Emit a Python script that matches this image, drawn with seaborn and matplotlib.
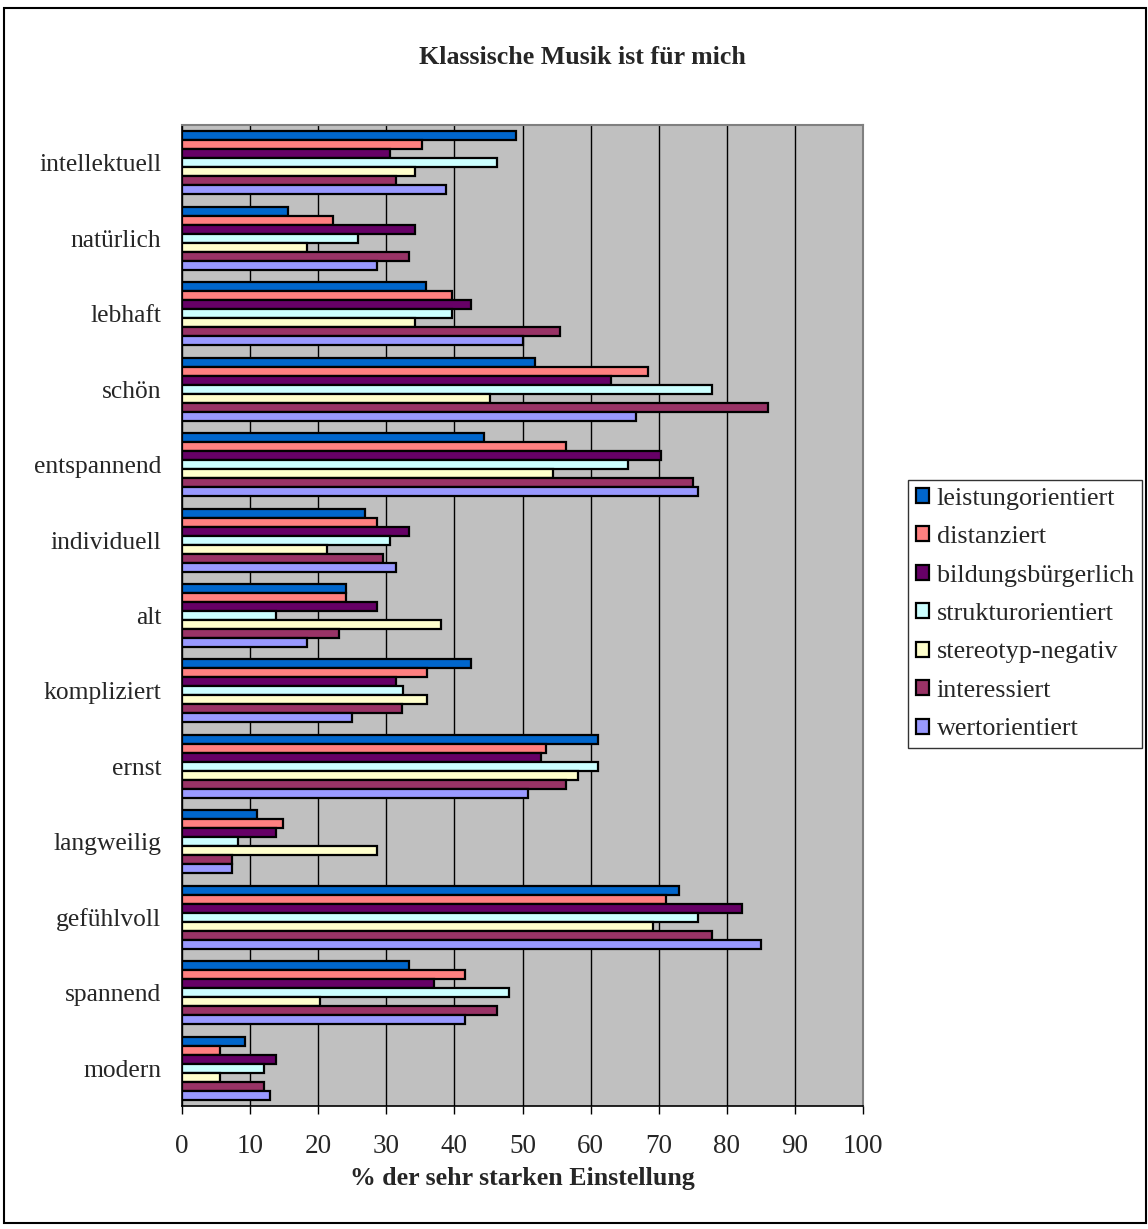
import numpy as np
import pandas as pd
import matplotlib
matplotlib.use("Agg")
import matplotlib.pyplot as plt
import seaborn as sns
from matplotlib.patches import Rectangle

categories = ["intellektuell", "natürlich", "lebhaft", "schön", "entspannend",
              "individuell", "alt", "kompliziert", "ernst", "langweilig",
              "gefühlvoll", "spannend", "modern"]

series_names = ["leistungorientiert", "distanziert", "bildungsbürgerlich",
                "strukturorientiert", "stereotyp-negativ", "interessiert",
                "wertorientiert"]

leistungorientiert = [49.1, 15.6, 35.9, 51.9, 44.4, 26.8, 24.1, 42.5, 61.1, 11.0, 73.0, 33.3, 9.3]
distanziert = [35.2, 22.1, 39.7, 68.5, 56.4, 28.6, 24.1, 36.0, 53.5, 14.8, 71.1, 41.6, 5.6]
bildungsbuergerlich = [30.6, 34.2, 42.5, 63.0, 70.3, 33.3, 28.7, 31.4, 52.7, 13.8, 82.3, 37.0, 13.8]
strukturorientiert = [46.2, 25.9, 39.7, 77.8, 65.5, 30.6, 13.8, 32.4, 61.1, 8.2, 75.7, 48.0, 12.0]
stereotyp_negativ = [34.2, 18.4, 34.2, 45.2, 54.5, 21.3, 38.0, 36.0, 58.2, 28.7, 69.2, 20.3, 5.6]
interessiert = [31.4, 33.3, 55.5, 86.0, 75.0, 29.5, 23.1, 32.3, 56.4, 7.3, 77.8, 46.3, 12.0]
wertorientiert = [38.8, 28.7, 50.0, 66.6, 75.8, 31.4, 18.4, 24.9, 50.8, 7.3, 85.0, 41.6, 12.9]

series_values = [leistungorientiert, distanziert, bildungsbuergerlich,
                 strukturorientiert, stereotyp_negativ, interessiert, wertorientiert]

colors = ["#0066CC", "#FF8080", "#660066", "#CCFFFF", "#FFFFCC", "#993366", "#9999FF"]

x_ticks = [0, 10, 20, 30, 40, 50, 60, 70, 80, 90, 100]

rows = []
for name, vals in zip(series_names, series_values):
    for cat, v in zip(categories, vals):
        rows.append({"Kategorie": cat, "Gruppe": name, "Wert": v})
df = pd.DataFrame(rows)

sns.set_style("white")
plt.rcParams["font.family"] = ["Liberation Serif", "DejaVu Serif"]

fig = plt.figure(figsize=(11.48, 12.29), dpi=100)
ax = fig.add_axes([182 / 1148, 1 - 1106 / 1229, (863 - 182) / 1148, (1106 - 125) / 1229])
ax.set_facecolor("#C0C0C0")

sns.barplot(data=df, x="Wert", y="Kategorie", hue="Gruppe",
            order=categories, hue_order=series_names, palette=colors,
            orient="h", width=0.835, edgecolor="black", linewidth=1.6,
            saturation=1, ax=ax, zorder=3)

ax.set_xlim(0, 100)
ax.set_ylim(12.5, -0.5)
ax.set_xticks(x_ticks)
ax.set_xticklabels([str(t) for t in x_ticks], fontsize=19.5)
ax.xaxis.grid(True, color="#000000", linewidth=1.0, zorder=0)
ax.yaxis.grid(False)
ax.set_axisbelow(True)

ax.set_yticks(range(len(categories)))
ax.set_yticklabels(categories, fontsize=18.4)
ax.set_yticks(np.arange(-0.5, len(categories), 1.0), minor=True)
ax.tick_params(axis="y", which="major", length=0, pad=15)
ax.tick_params(axis="y", which="minor", length=6, width=1, color="black", direction="out")
ax.tick_params(axis="x", which="major", length=6, width=1, color="black",
               direction="out", pad=14, bottom=True)

for side in ["left", "bottom"]:
    ax.spines[side].set_color("black")
    ax.spines[side].set_linewidth(1.2)
for side in ["top", "right"]:
    ax.spines[side].set_color("#808080")
    ax.spines[side].set_linewidth(1.5)

ax.set_ylabel("")
ax.set_xlabel("% der sehr starken Einstellung", fontsize=18.6, fontweight="bold", labelpad=6)
fig.text(582 / 1148, 1 - 57 / 1229, "Klassische Musik ist für mich",
         fontsize=18.6, fontweight="bold", ha="center", va="center")

handles, labels = ax.get_legend_handles_labels()
ax.get_legend().remove()
leg = fig.legend(handles, labels, loc="center left", bbox_to_anchor=(908 / 1148, 1 - 614 / 1229),
                 fontsize=18.8, frameon=True, fancybox=False, shadow=False,
                 handlelength=0.5, handleheight=0.5, handletextpad=0.3,
                 labelspacing=0.63, borderpad=0.3, borderaxespad=0)
leg.get_frame().set_edgecolor("black")
leg.get_frame().set_linewidth(1.0)
leg.get_frame().set_facecolor("white")

fig.patches.append(Rectangle((4 / 1148, 6 / 1229), 1 - 6 / 1148, 1 - 14 / 1229,
                             transform=fig.transFigure, fill=False,
                             edgecolor="black", linewidth=1.5))

fig.savefig("out.png", dpi=100, facecolor="white")
